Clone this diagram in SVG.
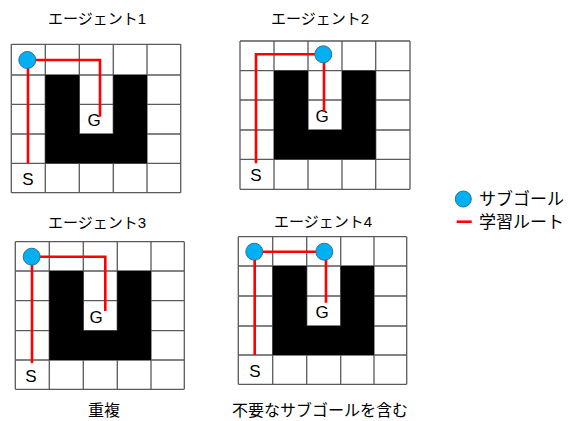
<svg xmlns="http://www.w3.org/2000/svg" width="571" height="421" viewBox="0 0 571 421">
<style>
.grid{fill:none;stroke:#5a5a5a;stroke-width:1.3}
.wall{fill:#000}
.route{fill:none;stroke:#ff0000;stroke-width:2.6}
.sub{fill:#00b0f0;stroke:#2f6fa8;stroke-width:1}
.t{font-family:"Liberation Sans","Noto Sans CJK JP",sans-serif;fill:#000}
.title{font-size:15px;text-anchor:middle}
.lbl{font-size:17px;text-anchor:middle}
.cap{font-size:16px;text-anchor:middle}
.leg{font-size:17px}
</style>
<rect width="571" height="421" fill="#fff"/>

<g id="agent1">
<text class="t title" x="97" y="24">エージェント1</text>
<path class="grid" d="M11.3 44.3H180.7M11.3 75H180.7M11.3 104.3H180.7M11.3 134H180.7M11.3 163.3H180.7M11.3 192.7H180.7M11.3 44.3V192.7M45.3 44.3V192.7M79.3 44.3V192.7M113.3 44.3V192.7M147 44.3V192.7M180.7 44.3V192.7"/>
<path class="wall" d="M45.3 75H79.3V134H113.3V75H147V163.3H45.3Z"/>
<text class="t lbl" x="28" y="185">S</text>
<text class="t lbl" x="94" y="126">G</text>
</g>

<g id="agent2">
<text class="t title" x="320" y="24">エージェント2</text>
<path class="grid" d="M240 41H410M240 70.7H410M240 100H410M240 130H410M240 159.3H410M240 189.3H410M240 41V189.3M274 41V189.3M308 41V189.3M342 41V189.3M375.7 41V189.3M410 41V189.3"/>
<path class="wall" d="M274 70.7H308V130H342V70.7H375.7V159.3H274Z"/>
<text class="t lbl" x="256" y="181">S</text>
<text class="t lbl" x="322" y="122">G</text>
</g>

<g id="agent3">
<text class="t title" x="97" y="228">エージェント3</text>
<path class="grid" d="M15.3 241.7H184.3M15.3 271H184.3M15.3 300.7H184.3M15.3 330.7H184.3M15.3 360H184.3M15.3 389.3H184.3M15.3 241.7V389.3M49.3 241.7V389.3M83.3 241.7V389.3M117.3 241.7V389.3M151 241.7V389.3M184.3 241.7V389.3"/>
<path class="wall" d="M49.3 271H83.3V330.7H117.3V271H151V360H49.3Z"/>
<text class="t lbl" x="31" y="382">S</text>
<text class="t lbl" x="96" y="323">G</text>
<text class="t cap" x="104" y="416">重複</text>
</g>

<g id="agent4">
<text class="t title" x="323" y="227">エージェント4</text>
<path class="grid" d="M238.3 236.7H406.7M238.3 266H406.7M238.3 296H406.7M238.3 326H406.7M238.3 355H406.7M238.3 384.3H406.7M238.3 236.7V384.3M272.7 236.7V384.3M306.7 236.7V384.3M340.7 236.7V384.3M374 236.7V384.3M406.7 236.7V384.3"/>
<path class="wall" d="M272.7 266H306.7V326H340.7V266H374V355H272.7Z"/>
<text class="t lbl" x="255" y="377">S</text>
<text class="t lbl" x="322" y="318">G</text>
<text class="t cap" x="320" y="416">不要なサブゴールを含む</text>
</g>

<g id="connectors">
<path class="route" d="M28 163.3V60M27.3 60H100V116.7"/>
<path class="route" d="M256 163.3V54.3H323.3M324 54.3V111.7"/>
<path class="route" d="M32 363.3V256.7M31.7 256.7H105.3V311"/>
<path class="route" d="M254.7 355V251.7M254.3 251.7H324.3M326 251.7V302.7"/>
</g>

<g id="subgoals">
<circle class="sub" cx="27.3" cy="60" r="8.5"/>
<circle class="sub" cx="323.3" cy="54.3" r="8.5"/>
<circle class="sub" cx="31.7" cy="256.7" r="8.5"/>
<circle class="sub" cx="254.3" cy="251.7" r="8.5"/>
<circle class="sub" cx="324.3" cy="251.7" r="8.5"/>
</g>

<g id="legend">
<circle class="sub" cx="463.3" cy="199" r="8"/>
<text class="t leg" x="479" y="205">サブゴール</text>
<line class="route" x1="456.7" y1="221.7" x2="471.7" y2="221.7"/>
<text class="t leg" x="479" y="228">学習ルート</text>
</g>
</svg>
